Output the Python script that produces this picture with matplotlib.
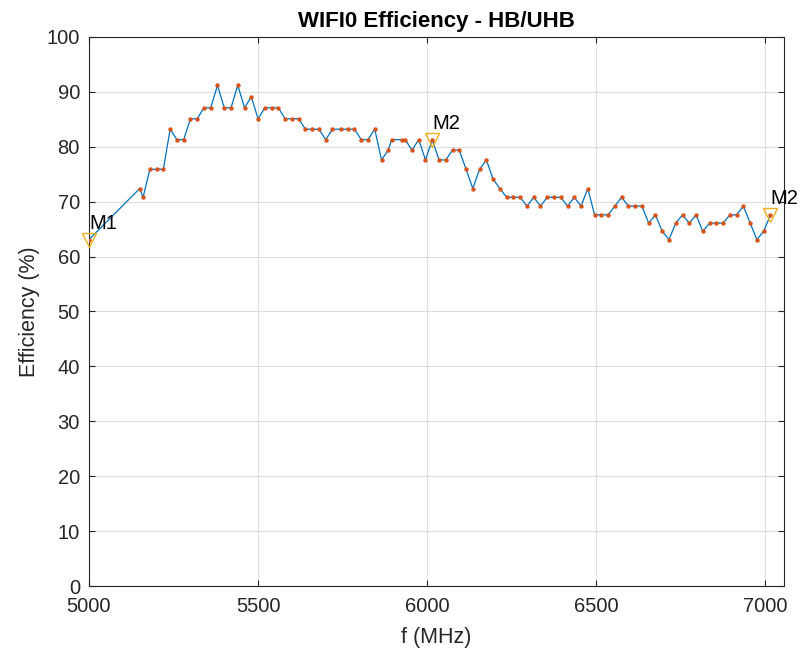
import matplotlib
matplotlib.use("Agg")
import matplotlib.pyplot as plt

plt.rcParams['font.family'] = ['Liberation Sans', 'DejaVu Sans']

freq_mhz = [5000, 5150, 5160, 5180, 5200, 5220, 5240, 5260, 5280, 5300, 5320, 5340, 5360,
            5380, 5400, 5420, 5440, 5460, 5480, 5500, 5520, 5540, 5560, 5580, 5600, 5620,
            5640, 5660, 5680, 5700, 5720, 5745, 5765, 5785, 5805, 5825, 5845, 5865, 5885,
            5895, 5925, 5935, 5955, 5975, 5995, 6015, 6035, 6055, 6075, 6095, 6115, 6135,
            6155, 6175, 6195, 6215, 6235, 6255, 6275, 6295, 6315, 6335, 6355, 6375, 6395,
            6415, 6435, 6455, 6475, 6495, 6515, 6535, 6555, 6575, 6595, 6615, 6635, 6655,
            6675, 6695, 6715, 6735, 6755, 6775, 6795, 6815, 6835, 6855, 6875, 6895, 6915,
            6935, 6955, 6975, 6995, 7015]
efficiency = [63.1, 72.4, 70.8, 75.9, 75.9, 75.9, 83.2, 81.3, 81.3, 85.1, 85.1, 87.1, 87.1,
              91.2, 87.1, 87.1, 91.2, 87.1, 89.1, 85.1, 87.1, 87.1, 87.1, 85.1, 85.1, 85.1,
              83.2, 83.2, 83.2, 81.3, 83.2, 83.2, 83.2, 83.2, 81.3, 81.3, 83.2, 77.6, 79.4,
              81.3, 81.3, 81.3, 79.4, 81.3, 77.6, 81.3, 77.6, 77.6, 79.4, 79.4, 75.9, 72.4,
              75.9, 77.6, 74.1, 72.4, 70.8, 70.8, 70.8, 69.2, 70.8, 69.2, 70.8, 70.8, 70.8,
              69.2, 70.8, 69.2, 72.4, 67.6, 67.6, 67.6, 69.2, 70.8, 69.2, 69.2, 69.2, 66.1,
              67.6, 64.6, 63.1, 66.1, 67.6, 66.1, 67.6, 64.6, 66.1, 66.1, 66.1, 67.6, 67.6,
              69.2, 66.1, 63.1, 64.6, 67.6]
marker_labels = ["M1", "M2", "M2"]
marker_freqs = [5000, 6015, 7015]

title = "WIFI0 Efficiency - HB/UHB"
xlabel = "f (MHz)"
ylabel = "Efficiency (%)"
xticks = [5000, 5500, 6000, 6500, 7000]
yticks = list(range(0, 101, 10))

blue = (0.0, 0.447, 0.741)
red = (0.85, 0.325, 0.098)
yellow = (0.929, 0.694, 0.125)
axcol = (0.15, 0.15, 0.15)

fig = plt.figure(figsize=(8.03, 6.58), dpi=100)
ax = fig.add_axes([0.1108, 0.1094, 0.9763 - 0.1108, 0.9438 - 0.1094])

ax.plot(freq_mhz, efficiency, color=blue, lw=0.9, zorder=3)
ax.plot(freq_mhz, efficiency, ls='none', marker='o', ms=2.8, mfc=red, mec=red,
        mew=0.3, zorder=4)

for lab, f in zip(marker_labels, marker_freqs):
    v = efficiency[freq_mhz.index(f)]
    ax.plot([f], [v], ls='none', marker='v', ms=10, mfc='none', mec=yellow,
            mew=1.0, zorder=5, clip_on=False)
    ax.annotate(lab, (f, v), xytext=(0, 7), textcoords='offset pixels',
                ha='left', va='bottom', fontsize=14.5, color='black',
                annotation_clip=False, zorder=6)

ax.set_xlim(5000, 7055)
ax.set_ylim(0, 100)
ax.set_xticks(xticks)
ax.set_yticks(yticks)
ax.tick_params(direction='in', length=4, width=0.8, colors=axcol, labelsize=14.5,
               top=True, right=True, labelcolor=axcol)
ax.tick_params(axis='x', pad=8)
ax.tick_params(axis='y', pad=6.5)
ax.grid(True, color=(0.87, 0.87, 0.87), lw=0.8)
ax.set_axisbelow(True)
for s in ax.spines.values():
    s.set_color(axcol)
    s.set_linewidth(0.8)

ax.set_title(title, fontsize=16, fontweight='bold', pad=7)
ax.set_xlabel(xlabel, fontsize=15.5, color=axcol, labelpad=8)
ax.set_ylabel(ylabel, fontsize=15.5, color=axcol, labelpad=5)

fig.savefig("out.png", dpi=100)
